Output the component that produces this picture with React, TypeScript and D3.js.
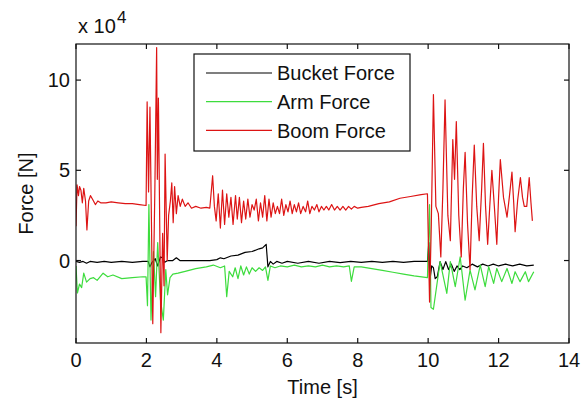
import React from "react";
import * as d3 from "d3";

// Time axis ticks [s] and force ticks [x10^4 N]
const xTicks = [0, 2, 4, 6, 8, 10, 12, 14];
const yTicks = [0, 5, 10];

// Bucket force (x 10^4 N)
const bucketT = [0, 0.1, 0.2, 0.3, 0.4, 0.6, 0.8, 1.0, 1.3, 1.6, 1.9, 2.05, 2.1, 2.16, 2.25, 2.32, 2.4, 2.46, 2.52, 2.6, 2.75, 2.85, 2.95, 3.2, 3.5, 3.8, 4.0, 4.1, 4.2, 4.4, 4.6, 4.8, 5.0, 5.2, 5.3, 5.4, 5.45, 5.52, 5.6, 5.7, 5.85, 6.0, 6.3, 6.6, 6.9, 7.2, 7.5, 7.8, 8.1, 8.4, 8.7, 9.0, 9.3, 9.6, 9.98, 10.02, 10.05, 10.1, 10.15, 10.2, 10.26, 10.34, 10.42, 10.5, 10.58, 10.66, 10.74, 10.82, 10.9, 10.98, 11.1, 11.25, 11.4, 11.55, 11.7, 11.85, 12.0, 12.2, 12.4, 12.6, 12.8, 13.0];
const bucketF = [-0.05, -0.1, -0.05, -0.15, -0.05, -0.1, -0.05, -0.1, -0.05, -0.1, -0.05, -0.05, -0.35, -0.1, 0.1, -0.3, 0.2, 0.15, -0.1, 0.0, 0.0, 0.15, 0.0, 0.0, 0.0, 0.0, 0.05, 0.15, 0.1, 0.25, 0.3, 0.45, 0.5, 0.65, 0.7, 0.9, -0.35, -0.05, -0.2, -0.05, -0.15, -0.05, -0.15, -0.05, -0.15, -0.05, -0.12, -0.05, -0.1, -0.05, -0.1, -0.05, -0.1, -0.05, -0.05, 1.0, -1.1, -0.3, -0.4, -1.0, -0.9, -0.06, -0.5, -0.06, -0.5, -0.2, -0.6, -0.3, -0.5, -0.3, -0.4, -0.2, -0.35, -0.2, -0.3, -0.2, -0.3, -0.2, -0.3, -0.2, -0.3, -0.25];

// Arm force (x 10^4 N)
const armT = [0, 0.04, 0.1, 0.16, 0.22, 0.3, 0.4, 0.5, 0.6, 0.77, 0.9, 1.05, 1.3, 1.6, 1.9, 1.99, 2.03, 2.07, 2.13, 2.2, 2.26, 2.32, 2.4, 2.48, 2.55, 2.6, 2.67, 2.75, 2.9, 3.1, 3.4, 3.7, 3.9, 4.1, 4.22, 4.28, 4.35, 4.45, 4.52, 4.6, 4.68, 4.76, 4.84, 4.92, 5.0, 5.1, 5.2, 5.3, 5.38, 5.45, 5.52, 5.65, 5.8, 6.0, 6.2, 6.4, 6.6, 6.8, 7.0, 7.2, 7.4, 7.6, 7.76, 7.82, 7.9, 8.1, 8.4, 8.7, 9.0, 9.3, 9.6, 9.98, 10.04, 10.08, 10.15, 10.34, 10.53, 10.63, 10.77, 10.91, 11.05, 11.19, 11.33, 11.48, 11.62, 11.72, 11.86, 11.95, 12.09, 12.24, 12.38, 12.47, 12.61, 12.76, 12.85, 13.0];
const armF = [-0.3, -1.8, -1.3, -1.5, -0.7, -1.2, -1.0, -0.95, -1.1, -0.7, -0.9, -0.8, -1.0, -0.95, -0.9, -0.9, -2.5, 3.1, -3.3, 0.5, -2.0, 1.0, -2.2, -3.3, -0.5, -1.9, -0.95, -0.75, -0.7, -0.6, -0.45, -0.35, -0.25, -0.4, -0.3, -2.0, -0.6, -0.9, -0.4, -1.0, -0.3, -0.8, -0.35, -0.75, -0.4, -0.6, -0.4, -0.55, -0.35, -1.1, -0.3, -0.4, -0.3, -0.35, -0.25, -0.35, -0.3, -0.35, -0.25, -0.35, -0.3, -0.35, -0.3, -1.15, -0.35, -0.35, -0.45, -0.55, -0.65, -0.75, -0.85, -0.95, 3.1, -2.6, -2.7, -0.06, -1.82, -0.06, -1.45, 0.21, -2.2, -0.53, -1.63, -0.25, -1.45, -0.34, -1.27, -0.44, -1.17, -0.44, -1.27, -0.62, -1.17, -0.62, -1.17, -0.62];

// Boom force (x 10^4 N)
const boomT = [0, 0.03, 0.07, 0.1, 0.14, 0.18, 0.22, 0.27, 0.31, 0.36, 0.41, 0.47, 0.55, 0.62, 0.7, 0.85, 1.0, 1.2, 1.4, 1.6, 1.8, 1.99, 2.02, 2.06, 2.1, 2.18, 2.24, 2.29, 2.31, 2.34, 2.41, 2.46, 2.5, 2.53, 2.59, 2.63, 2.68, 2.72, 2.76, 2.8, 2.85, 2.9, 2.96, 3.02, 3.1, 3.18, 3.28, 3.4, 3.55, 3.7, 3.8, 3.88, 3.93, 3.98, 4.04, 4.1, 4.16, 4.22, 4.28, 4.34, 4.4, 4.46, 4.53, 4.58, 4.64, 4.7, 4.76, 4.82, 4.88, 4.94, 5.0, 5.06, 5.12, 5.18, 5.24, 5.3, 5.36, 5.42, 5.48, 5.54, 5.6, 5.66, 5.72, 5.78, 5.84, 5.9, 5.96, 6.02, 6.08, 6.14, 6.2, 6.26, 6.32, 6.38, 6.45, 6.52, 6.58, 6.64, 6.7, 6.77, 6.84, 6.9, 6.97, 7.04, 7.11, 7.18, 7.26, 7.34, 7.42, 7.5, 7.58, 7.66, 7.74, 7.82, 7.9, 8.0, 8.1, 8.3, 8.6, 8.9, 9.2, 9.5, 9.8, 9.98, 10.04, 10.09, 10.15, 10.22, 10.29, 10.36, 10.42, 10.48, 10.56, 10.63, 10.7, 10.75, 10.8, 10.87, 10.94, 11.0, 11.05, 11.12, 11.19, 11.25, 11.31, 11.38, 11.45, 11.52, 11.57, 11.63, 11.69, 11.75, 11.81, 11.88, 11.95, 12.0, 12.05, 12.14, 12.24, 12.31, 12.38, 12.43, 12.47, 12.54, 12.62, 12.68, 12.73, 12.8, 12.87, 12.92, 12.96];
const boomF = [1.9, 4.2, 3.6, 4.1, 3.9, 3.2, 4.0, 3.3, 1.7, 3.3, 3.6, 3.4, 3.1, 3.3, 3.2, 3.2, 3.25, 3.2, 3.15, 3.15, 3.1, 3.05, 8.8, 3.8, 8.5, -3.5, 4.0, 11.8, 4.5, 9.0, -4.0, 1.5, -1.4, 5.9, 0.0, 2.5, 3.3, 4.3, 2.1, 4.1, 2.6, 3.6, 3.0, 3.4, 3.0, 3.2, 2.9, 3.0, 2.9, 2.95, 2.9, 4.7, 3.0, 2.2, 3.7, 1.8, 3.9, 2.0, 3.7, 2.4, 3.5, 2.0, 3.6, 2.3, 3.5, 2.1, 3.3, 2.3, 3.4, 2.4, 3.1, 2.8, 3.4, 2.2, 3.2, 2.4, 3.6, 2.2, 3.4, 2.4, 3.2, 2.6, 3.0, 2.6, 3.4, 2.5, 3.1, 2.7, 3.3, 2.6, 3.1, 2.7, 3.2, 2.6, 3.0, 2.7, 3.3, 2.6, 3.0, 2.8, 3.1, 2.7, 3.0, 2.8, 3.0, 2.8, 3.1, 2.8, 3.0, 2.8, 3.0, 2.8, 3.0, 2.85, 3.0, 2.9, 2.95, 3.0, 3.15, 3.25, 3.45, 3.55, 3.65, 3.7, -2.3, 2.0, 9.2, 3.0, 2.6, 0.2, 4.0, 8.9, 2.5, 1.1, 6.7, 4.5, 7.7, 2.5, 0.2, 4.0, 6.0, 2.0, -0.5, 3.5, 6.4, 3.0, 1.1, 4.0, 6.5, 3.0, 0.9, 3.0, 5.0, 3.0, 0.9, 3.5, 5.6, 3.5, 2.4, 3.6, 4.9, 3.2, 1.6, 3.3, 4.6, 3.5, 3.0, 3.0, 4.6, 3.2, 2.2];

const seriesNames = ["Bucket Force", "Arm Force", "Boom Force"];
const seriesColors = ["#000000", "#3ddc3d", "#dd1414"];

const FONT = "'Liberation Sans', Arial, Helvetica, sans-serif";

export default function App() {
  const left = 76, right = 569, top = 44, bottom = 343;
  const x = d3.scaleLinear().domain([0, 14]).range([left, right]);
  const y = d3.scaleLinear().domain([-4.57, 12]).range([bottom, top]);

  const mk = (ts: number[], vs: number[]) =>
    d3.line<number>().x((_, i) => x(ts[i])).y((v) => y(v))(vs) || "";

  const paths = [mk(bucketT, bucketF), mk(armT, armF), mk(boomT, boomF)];
  const order = [0, 1, 2];
  const tickLen = 5;

  return (
    <svg width={588} height={400} style={{ position: "absolute", left: 0, top: 0, background: "#fff" }}>
      <defs>
        <clipPath id="plotclip">
          <rect x={left} y={top} width={right - left} height={bottom - top} />
        </clipPath>
      </defs>
      <rect x={0} y={0} width={588} height={400} fill="#fff" />
      <g clipPath="url(#plotclip)">
        {order.map((i) => (
          <path key={i} d={paths[i]} fill="none" stroke={seriesColors[i]} strokeWidth={1.2} strokeLinejoin="round" />
        ))}
      </g>
      {/* frame */}
      <rect x={left} y={top} width={right - left} height={bottom - top} fill="none" stroke="#111" strokeWidth={1.2} />
      {xTicks.map((t) => (
        <g key={"x" + t}>
          <line x1={x(t)} x2={x(t)} y1={bottom} y2={bottom - tickLen} stroke="#111" strokeWidth={1.2} />
          <line x1={x(t)} x2={x(t)} y1={top} y2={top + tickLen} stroke="#111" strokeWidth={1.2} />
          <text x={x(t)} y={367} textAnchor="middle" fontFamily={FONT} fontSize={20} fill="#111">{t}</text>
        </g>
      ))}
      {yTicks.map((v) => (
        <g key={"y" + v}>
          <line x1={left} x2={left + tickLen} y1={y(v)} y2={y(v)} stroke="#111" strokeWidth={1.2} />
          <line x1={right} x2={right - tickLen} y1={y(v)} y2={y(v)} stroke="#111" strokeWidth={1.2} />
          <text x={70} y={y(v) + 7} textAnchor="end" fontFamily={FONT} fontSize={20} fill="#111">{v}</text>
        </g>
      ))}
      {/* exponent */}
      <text x={78} y={33} fontFamily={FONT} fontSize={20} fill="#111">
        x 10
      </text>
      <text x={117} y={23} fontFamily={FONT} fontSize={17} fill="#111">4</text>
      {/* axis labels */}
      <text x={(left + right) / 2} y={394} textAnchor="middle" fontFamily={FONT} fontSize={20} fill="#111">Time [s]</text>
      <text transform={`translate(33, ${(top + bottom) / 2}) rotate(-90)`} textAnchor="middle" fontFamily={FONT} fontSize={20} fill="#111">Force [N]</text>
      {/* legend */}
      <rect x={194} y={54} width={216} height={97} fill="#fff" stroke="#111" strokeWidth={1.2} />
      {seriesNames.map((n, i) => {
        const ly = 73 + i * 28.7;
        return (
          <g key={n}>
            <line x1={206} x2={272} y1={ly} y2={ly} stroke={seriesColors[i]} strokeWidth={1.2} />
            <text x={277} y={ly + 7.3} fontFamily={FONT} fontSize={20} fill="#111">{n}</text>
          </g>
        );
      })}
    </svg>
  );
}
